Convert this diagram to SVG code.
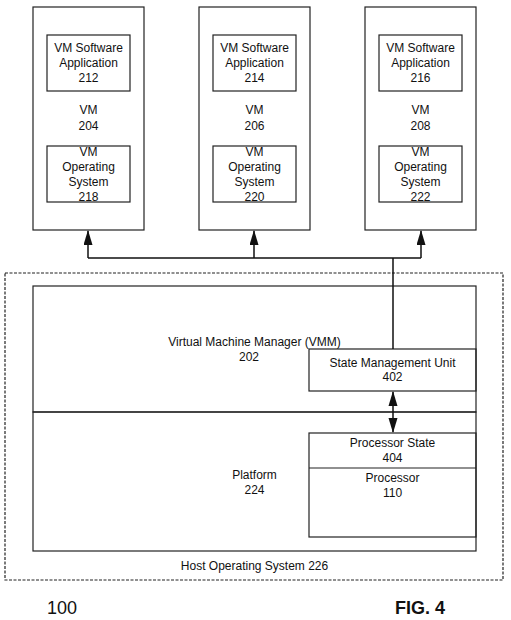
<svg xmlns="http://www.w3.org/2000/svg" width="511" height="620" viewBox="0 0 511 620">
<style>
.box{fill:none;stroke:#222;stroke-width:1.2}
.t{font-family:"Liberation Sans",Arial,sans-serif;font-size:12px;fill:#111;text-anchor:middle}
.c{fill:none;stroke:#111;stroke-width:1.5}
</style>
<defs>
<marker id="ah" markerWidth="15" markerHeight="10" refX="14" refY="4.5" orient="auto" markerUnits="userSpaceOnUse"><path d="M0,0 L15,4.5 L0,9 z" fill="#111"/></marker>
<marker id="ahs" markerWidth="15" markerHeight="10" refX="1" refY="4.5" orient="auto" markerUnits="userSpaceOnUse"><path d="M15,0 L0,4.5 L15,9 z" fill="#111"/></marker>
</defs>
<rect width="511" height="620" fill="#fff"/>
<g id="vm204">
<rect class="box" x="33" y="7" width="111" height="223"/>
<rect class="box" x="47" y="35" width="83" height="56"/>
<text class="t" x="88.5" y="52">VM Software</text><text class="t" x="88.5" y="67">Application</text><text class="t" x="88.5" y="82">212</text>
<text class="t" x="88.5" y="114">VM</text><text class="t" x="88.5" y="130">204</text>
<rect class="box" x="47" y="146" width="83" height="56"/>
<text class="t" x="88.5" y="156">VM</text><text class="t" x="88.5" y="171">Operating</text><text class="t" x="88.5" y="186">System</text><text class="t" x="88.5" y="201">218</text>
</g>
<g id="vm206">
<rect class="box" x="199" y="7" width="111" height="223"/>
<rect class="box" x="213" y="35" width="83" height="56"/>
<text class="t" x="254.5" y="52">VM Software</text><text class="t" x="254.5" y="67">Application</text><text class="t" x="254.5" y="82">214</text>
<text class="t" x="254.5" y="114">VM</text><text class="t" x="254.5" y="130">206</text>
<rect class="box" x="213" y="146" width="83" height="56"/>
<text class="t" x="254.5" y="156">VM</text><text class="t" x="254.5" y="171">Operating</text><text class="t" x="254.5" y="186">System</text><text class="t" x="254.5" y="201">220</text>
</g>
<g id="vm208">
<rect class="box" x="365" y="7" width="111" height="223"/>
<rect class="box" x="379" y="35" width="83" height="56"/>
<text class="t" x="420.5" y="52">VM Software</text><text class="t" x="420.5" y="67">Application</text><text class="t" x="420.5" y="82">216</text>
<text class="t" x="420.5" y="114">VM</text><text class="t" x="420.5" y="130">208</text>
<rect class="box" x="379" y="146" width="83" height="56"/>
<text class="t" x="420.5" y="156">VM</text><text class="t" x="420.5" y="171">Operating</text><text class="t" x="420.5" y="186">System</text><text class="t" x="420.5" y="201">222</text>
</g>
<g id="host226">
<rect x="5" y="273" width="498" height="307" fill="none" stroke="#222" stroke-width="1.2" stroke-dasharray="3,1.5"/>
<text class="t" x="254.5" y="570">Host Operating System 226</text>
</g>
<g id="vmm202">
<rect class="box" x="33" y="286" width="443" height="126"/>
<text class="t" x="254.5" y="346">Virtual Machine Manager (VMM)</text><text class="t" x="249" y="361">202</text>
</g>
<g id="platform224">
<rect class="box" x="33" y="412" width="443" height="139"/>
<text class="t" x="254.5" y="479">Platform</text><text class="t" x="254.5" y="494">224</text>
</g>
<g id="smu402">
<rect class="box" x="309" y="349" width="167" height="42" fill="#fff"/>
<text class="t" x="392.5" y="367">State Management Unit</text><text class="t" x="392.5" y="381">402</text>
</g>
<g id="proc404">
<rect class="box" x="309" y="433" width="167" height="104"/>
<line class="box" x1="309" y1="468" x2="476" y2="468"/>
<text class="t" x="392.5" y="447">Processor State</text><text class="t" x="392.5" y="462">404</text>
<text class="t" x="392.5" y="482">Processor</text><text class="t" x="392.5" y="497">110</text>
</g>
<g id="connectors">
<path class="c" d="M393,349 V258 M88,258 H421"/>
<path class="c" d="M88,258 V231" marker-end="url(#ah)"/>
<path class="c" d="M254,258 V231" marker-end="url(#ah)"/>
<path class="c" d="M421,258 V231" marker-end="url(#ah)"/>
<path class="c" d="M393,392 V432" marker-start="url(#ahs)" marker-end="url(#ah)"/>
</g>
<text x="47" y="614" style="font-family:'Liberation Sans',Arial,sans-serif;font-size:18px;fill:#111">100</text>
<text x="395" y="614" style="font-family:'Liberation Sans',Arial,sans-serif;font-size:18px;font-weight:bold;fill:#111">FIG. 4</text>
</svg>
